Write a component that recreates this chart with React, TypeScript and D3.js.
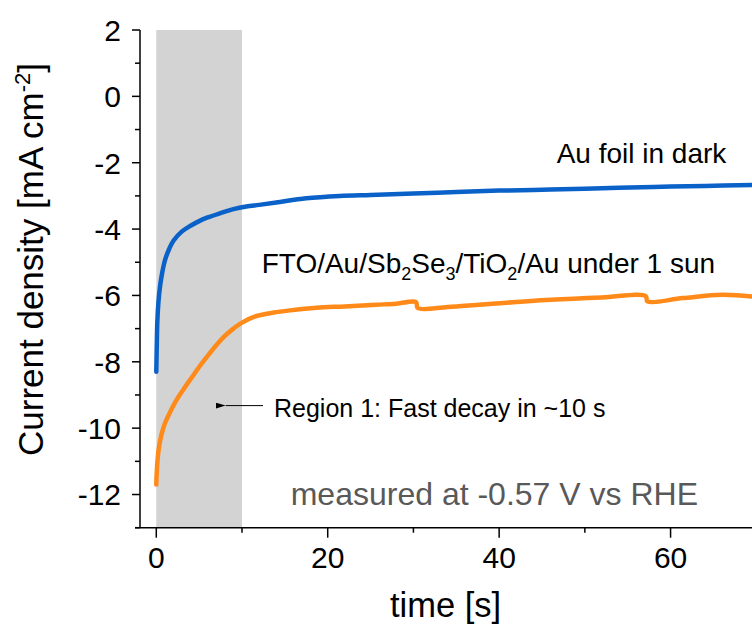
import React from "react";
import * as d3 from "d3";

// Chronoamperometry traces: time [s] vs current density [mA cm^-2]
const auTime = [0, 0.05, 0.12, 0.25, 0.45, 0.7, 1.0, 1.5, 2.0, 3.0, 4.0, 5.0, 6.0, 7.5, 9.0, 10.5, 12.0, 14.0, 17.5, 21.4, 25, 30, 35, 40, 46, 52, 58, 64, 69.5];
const auCurrent = [-8.3, -7.6, -6.8, -6.2, -5.7, -5.3, -4.95, -4.6, -4.35, -4.07, -3.9, -3.76, -3.65, -3.52, -3.4, -3.32, -3.27, -3.2, -3.07, -3.0, -2.97, -2.93, -2.88, -2.84, -2.81, -2.77, -2.73, -2.7, -2.67];

const ftoTime = [0, 0.05, 0.15, 0.3, 0.6, 1.0, 1.6, 2.3, 3.15, 4.2, 5.1, 5.9, 7.0, 8.0, 9.0, 10.0, 11.7, 13.6, 15.6, 18.7, 22, 25.7, 28, 30.3, 30.5, 34, 38, 42, 46, 52, 57.1, 57.3, 61.4, 66, 69.5];
const ftoCurrent = [-11.7, -11.35, -10.95, -10.6, -10.2, -9.86, -9.52, -9.18, -8.84, -8.45, -8.12, -7.85, -7.5, -7.22, -7.0, -6.82, -6.62, -6.52, -6.45, -6.37, -6.33, -6.28, -6.25, -6.2, -6.38, -6.35, -6.27, -6.2, -6.13, -6.06, -6.02, -6.18, -6.08, -5.98, -6.03];

const xTicksMajor = [0, 20, 40, 60];
const xTicksMinor = [10, 30, 50];
const yTicksMajor = [2, 0, -2, -4, -6, -8, -10, -12];
const yTicksMinor = [1, -1, -3, -5, -7, -9, -11, -13];
const fastRegion = [0, 10];

const FONT = "Arial, 'Liberation Sans', sans-serif";

export default function App() {
  const left = 140, right = 752, top = 30, bottom = 527.7;
  const x = d3.scaleLinear().domain([-1.9, 69.5]).range([left, right]);
  const y = d3.scaleLinear().domain([-13, 2]).range([bottom, top]);

  const line = d3
    .line<[number, number]>()
    .x((d) => x(d[0]))
    .y((d) => y(d[1]))
    .curve(d3.curveCatmullRom.alpha(0.5));

  const auPts = auTime.map((t, i) => [t, auCurrent[i]] as [number, number]);
  const ftoPts = ftoTime.map((t, i) => [t, ftoCurrent[i]] as [number, number]);

  const arrowY = y(-9.32);

  return (
    <svg
      width={752}
      height={624}
      style={{ position: "absolute", left: 0, top: 0, background: "#fff" }}
      fontFamily={FONT}
    >
      <defs>
        <clipPath id="plotArea">
          <rect x={left} y={top - 5} width={right - left} height={bottom - top + 5} />
        </clipPath>
        <marker id="arrowHead" viewBox="0 0 10 6" refX="0" refY="3" markerWidth="10" markerHeight="6" orient="auto-start-reverse" markerUnits="userSpaceOnUse">
          <path d="M10,0 L0,3 L10,6 Z" fill="#000" />
        </marker>
      </defs>

      {/* shaded fast-decay window */}
      <rect
        x={x(fastRegion[0])}
        y={y(2)}
        width={x(fastRegion[1]) - x(fastRegion[0])}
        height={y(-13) - y(2)}
        fill="#d3d3d3"
      />

      <g clipPath="url(#plotArea)">
        <path d={line(auPts) ?? ""} fill="none" stroke="#0a62c9" strokeWidth={4.5} strokeLinejoin="round" strokeLinecap="round" />
        <path d={line(ftoPts) ?? ""} fill="none" stroke="#ff8a1a" strokeWidth={4.5} strokeLinejoin="round" strokeLinecap="round" />
      </g>

      {/* y axis */}
      <line x1={left} x2={left} y1={top} y2={bottom} stroke="#000" strokeWidth={1.5} />
      {yTicksMajor.map((v) => (
        <g key={"ym" + v}>
          <line x1={left - 8} x2={left} y1={y(v)} y2={y(v)} stroke="#000" strokeWidth={1.5} />
          <text x={121} y={y(v)} dy="0.36em" textAnchor="end" fontSize={30} fill="#000">
            {v}
          </text>
        </g>
      ))}
      {yTicksMinor.map((v) => (
        <line key={"yn" + v} x1={left - 5} x2={left} y1={y(v)} y2={y(v)} stroke="#000" strokeWidth={1.5} />
      ))}

      {/* x axis */}
      <line x1={left - 5} x2={right} y1={bottom} y2={bottom} stroke="#000" strokeWidth={1.5} />
      {xTicksMajor.map((t) => (
        <g key={"xm" + t}>
          <line x1={x(t)} x2={x(t)} y1={bottom} y2={bottom + 10} stroke="#000" strokeWidth={1.5} />
          <text x={x(t)} y={568.3} textAnchor="middle" fontSize={30} fill="#000">
            {t}
          </text>
        </g>
      ))}
      {xTicksMinor.map((t) => (
        <line key={"xn" + t} x1={x(t)} x2={x(t)} y1={bottom} y2={bottom + 5} stroke="#000" strokeWidth={1.5} />
      ))}

      {/* axis titles */}
      <text x={(left + right) / 2 - 0.5} y={616.5} textAnchor="middle" fontSize={34.5} fill="#000">
        time [s]
      </text>
      <text transform="translate(43.3,259.5) rotate(-90)" textAnchor="middle" fontSize={35} fill="#000">
        Current density [mA cm
        <tspan dy={-13} fontSize={22}>-2</tspan>
        <tspan dy={13}>]</tspan>
      </text>

      {/* series labels */}
      <text x={556.7} y={163.3} fontSize={28} fill="#000">
        Au foil in dark
      </text>
      <text x={261.7} y={273.3} fontSize={28} fill="#000">
        FTO/Au/Sb<tspan dy={7} fontSize={18}>2</tspan>
        <tspan dy={-7}>Se</tspan>
        <tspan dy={7} fontSize={18}>3</tspan>
        <tspan dy={-7}>/TiO</tspan>
        <tspan dy={7} fontSize={18}>2</tspan>
        <tspan dy={-7}>/Au under 1 sun</tspan>
      </text>

      {/* region annotation */}
      <line
        x1={x(12.45)}
        x2={x(7.04) + 9}
        y1={arrowY}
        y2={arrowY}
        stroke="#000"
        strokeWidth={1}
        markerEnd="url(#arrowHead)"
      />
      <text x={274} y={417} fontSize={25} fill="#000">
        Region 1: Fast decay in ~10 s
      </text>

      <text x={290.7} y={505} fontSize={32} fill="#595959">
        measured at -0.57 V vs RHE
      </text>
    </svg>
  );
}
